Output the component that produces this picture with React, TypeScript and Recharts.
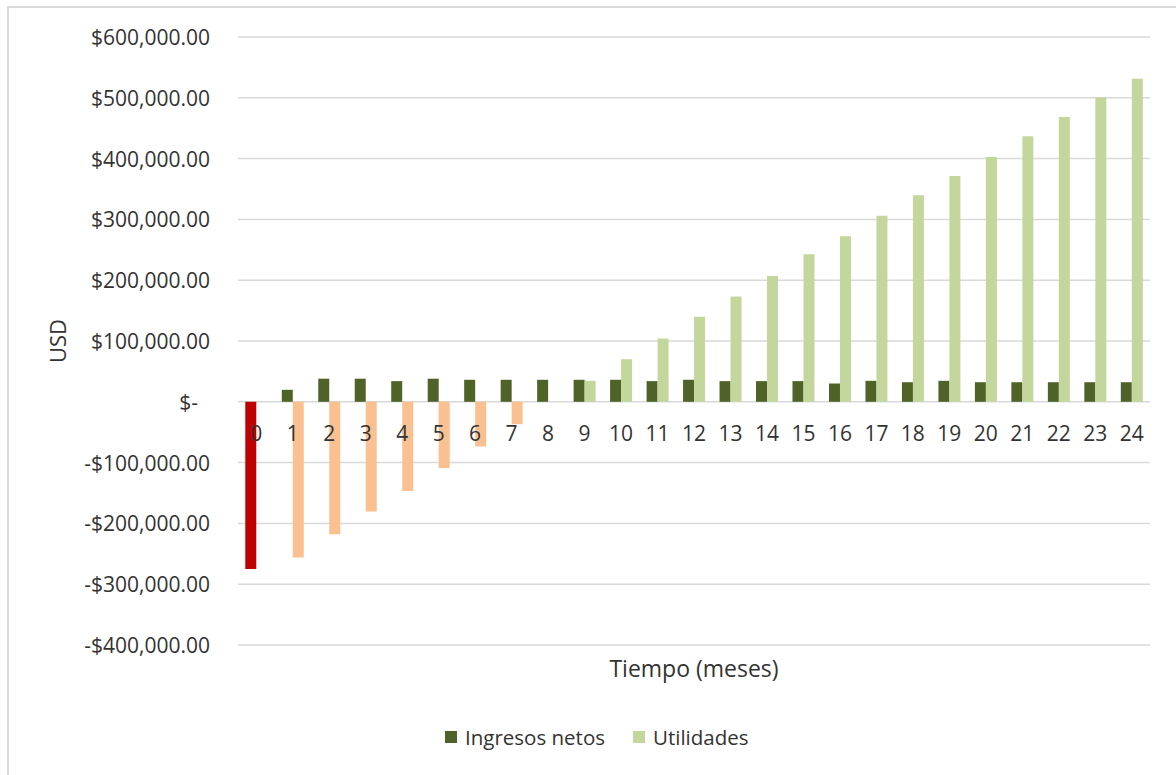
import React from 'react';
import { BarChart, Bar, XAxis, YAxis, CartesianGrid, Cell, Legend } from 'recharts';

// Months of the projection
const months = [0, 1, 2, 3, 4, 5, 6, 7, 8, 9, 10, 11, 12, 13, 14, 15, 16, 17, 18, 19, 20, 21, 22, 23, 24];

// Monthly net income (month 0 is the initial investment)
const ingresosNetos = [
  -275000, 19700, 38000, 38000, 34000, 38000, 36200, 36200, 36200, 36200,
  36200, 34000, 36200, 34000, 34000, 34000, 30100, 34500, 32200, 34500,
  32200, 32200, 32200, 32200, 32200,
];

// Accumulated profit
const utilidades = [
  null, -256000, -218000, -180300, -146800, -109000, -73500, -36800, 0, 34500,
  70000, 104000, 139700, 173100, 207100, 242700, 272300, 305800, 339700, 371500,
  402800, 436700, 468500, 500300, 531500,
];

const yTicks = [-400000, -300000, -200000, -100000, 0, 100000, 200000, 300000, 400000, 500000, 600000];

const Y_MIN = -400000;
const Y_MAX = 600000;

const COLOR_INGRESOS = '#4F6228';
const COLOR_INVERSION = '#C00000';
const COLOR_UTIL_POS = '#C3D69B';
const COLOR_UTIL_NEG = '#FAC090';
const TEXT_COLOR = '#333333';
const GRID_COLOR = '#D9D9D9';
const FONT = "'Open Sans', sans-serif";

const WIDTH = 1176;
const HEIGHT = 775;
const AXIS_W = 238;
const MARGIN = { top: 37, right: 26, bottom: 70, left: 0 };
const X_AXIS_H = 60;
const PLOT_H = HEIGHT - MARGIN.top - MARGIN.bottom - X_AXIS_H;
const ZERO_Y = MARGIN.top + (PLOT_H * Y_MAX) / (Y_MAX - Y_MIN);

const data = months.map((m, i) => ({
  mes: String(m),
  ingresos: ingresosNetos[i],
  utilidades: utilidades[i],
}));

const formatUsd = (v: number) => {
  if (v === 0) return '$-';
  const abs = Math.abs(v).toLocaleString('en-US', { minimumFractionDigits: 2, maximumFractionDigits: 2 });
  return (v < 0 ? '-$' : '$') + abs;
};

const YTick = (props: any) => {
  const { x, y, payload } = props;
  const v = payload.value as number;
  return (
    <text
      x={x}
      y={y}
      dx={v === 0 ? -12 : 0}
      textAnchor="end"
      dominantBaseline="central"
      fill={TEXT_COLOR}
      fontFamily={FONT}
      fontSize={21}
    >
      {formatUsd(v)}
    </text>
  );
};

// Category labels sit just below the zero line
const XTick = (props: any) => {
  const { x, payload } = props;
  return (
    <text x={x} y={ZERO_Y + 39} textAnchor="middle" fill={TEXT_COLOR} fontFamily={FONT} fontSize={21}>
      {payload.value}
    </text>
  );
};

const YTitle = (props: any) => {
  const vb = props.viewBox || {};
  const cx = 57;
  const cy = (vb.y ?? 0) + (vb.height ?? 0) / 2;
  return (
    <text
      x={cx}
      y={cy}
      transform={`rotate(-90, ${cx}, ${cy})`}
      textAnchor="middle"
      dominantBaseline="central"
      fill={TEXT_COLOR}
      fontFamily={FONT}
      fontSize={22}
    >
      USD
    </text>
  );
};

const XTitle = (props: any) => {
  const vb = props.viewBox || {};
  const cx = (vb.x ?? 0) + (vb.width ?? 0) / 2;
  return (
    <text x={cx} y={(vb.y ?? 0) + 32} textAnchor="middle" fill={TEXT_COLOR} fontFamily={FONT} fontSize={23}>
      Tiempo (meses)
    </text>
  );
};

const LegendContent = (props: any) => {
  const items = props.payload || [];
  return (
    <div style={{ display: 'flex', alignItems: 'center', fontFamily: FONT, fontSize: 20.5, color: TEXT_COLOR }}>
      {items.map((it: any) => (
        <div key={it.value} style={{ display: 'flex', alignItems: 'center', marginRight: 28 }}>
          <span style={{ display: 'inline-block', width: 12, height: 12, background: it.color, marginRight: 8 }} />
          <span style={{ lineHeight: '24px' }}>{it.value}</span>
        </div>
      ))}
    </div>
  );
};

export default function App() {
  return (
    <div
      style={{
        position: 'absolute',
        left: 0,
        top: 0,
        width: WIDTH,
        height: HEIGHT,
        background: '#fff',
        overflow: 'hidden',
      }}
    >
      <div
        style={{
          position: 'absolute',
          left: 7,
          top: 6,
          width: WIDTH,
          height: HEIGHT,
          borderLeft: `2px solid ${GRID_COLOR}`,
          borderTop: `2px solid ${GRID_COLOR}`,
        }}
      />
      <div style={{ position: 'absolute', left: 0, top: 0 }}>
        <BarChart
          width={WIDTH}
          height={HEIGHT}
          data={data}
          margin={MARGIN}
          barCategoryGap="20%"
          barGap={0}
        >
          <CartesianGrid vertical={false} stroke={GRID_COLOR} strokeWidth={1.5} />
          <XAxis
            dataKey="mes"
            height={X_AXIS_H}
            axisLine={false}
            tickLine={false}
            tick={<XTick />}
            interval={0}
            label={<XTitle />}
          />
          <YAxis
            width={AXIS_W}
            domain={[Y_MIN, Y_MAX]}
            ticks={yTicks}
            axisLine={false}
            tickLine={false}
            tickSize={6}
            tickMargin={22}
            tick={<YTick />}
            interval={0}
            label={<YTitle />}
          />
          <Legend
            layout="horizontal"
            verticalAlign="middle"
            align="center"
            content={<LegendContent />}
            wrapperStyle={{ left: 445, top: 725, width: 'auto', height: 24 }}
          />
          <Bar dataKey="ingresos" name="Ingresos netos" fill={COLOR_INGRESOS} isAnimationActive={false}>
            {data.map((d, i) => (
              <Cell key={i} fill={i === 0 ? COLOR_INVERSION : COLOR_INGRESOS} />
            ))}
          </Bar>
          <Bar dataKey="utilidades" name="Utilidades" fill={COLOR_UTIL_POS} isAnimationActive={false}>
            {data.map((d, i) => (
              <Cell key={i} fill={(d.utilidades ?? 0) < 0 ? COLOR_UTIL_NEG : COLOR_UTIL_POS} />
            ))}
          </Bar>
        </BarChart>
      </div>
    </div>
  );
}
